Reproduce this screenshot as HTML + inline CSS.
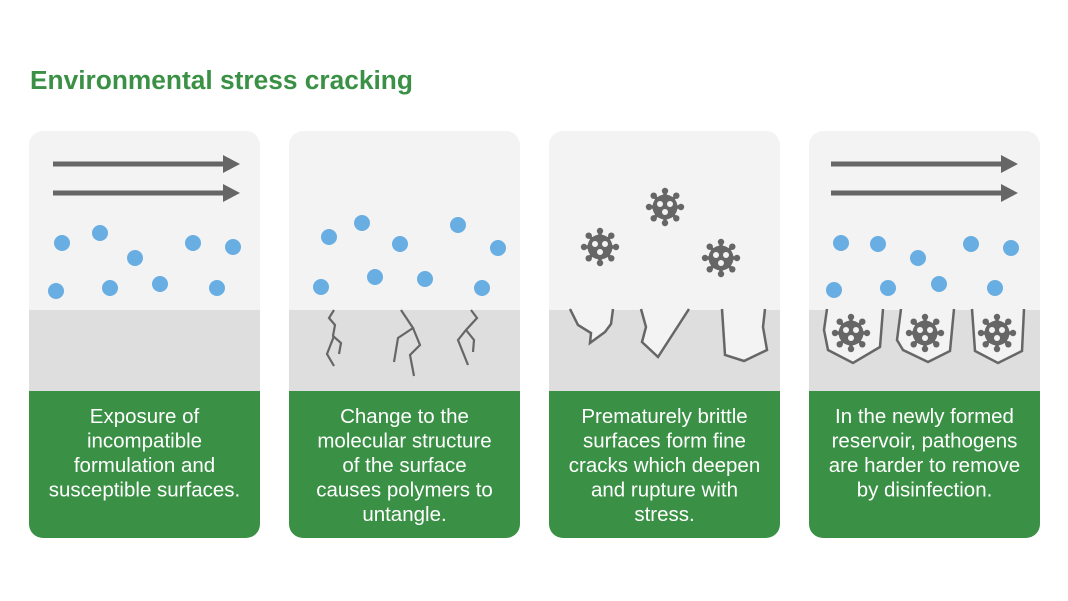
<!DOCTYPE html>
<html><head><meta charset="utf-8"><style>
html,body{margin:0;padding:0;background:#fff;}
svg{display:block;font-family:"Liberation Sans",Arial,sans-serif;}
</style></head><body>
<svg width="1068" height="601" viewBox="0 0 1068 601" xmlns="http://www.w3.org/2000/svg">
<defs>
  <clipPath id="c1"><rect x="29" y="131" width="231" height="407" rx="14"/></clipPath>
  <clipPath id="c2"><rect x="289" y="131" width="231" height="407" rx="14"/></clipPath>
  <clipPath id="c3"><rect x="549" y="131" width="231" height="407" rx="14"/></clipPath>
  <clipPath id="c4"><rect x="809" y="131" width="231" height="407" rx="14"/></clipPath>
  <g id="v">
    <g stroke="#666" stroke-width="3.5" stroke-linecap="round">
      <line x1="0" y1="0" x2="0" y2="-16"/><line x1="0" y1="0" x2="0" y2="16"/>
      <line x1="0" y1="0" x2="-16" y2="0"/><line x1="0" y1="0" x2="16" y2="0"/>
      <line x1="0" y1="0" x2="11.3" y2="11.3"/><line x1="0" y1="0" x2="-11.3" y2="11.3"/>
      <line x1="0" y1="0" x2="11.3" y2="-11.3"/><line x1="0" y1="0" x2="-11.3" y2="-11.3"/>
    </g>
    <g fill="#666">
      <circle r="12.5"/>
      <circle cx="0" cy="-16" r="3.2"/><circle cx="0" cy="16" r="3.2"/>
      <circle cx="-16" cy="0" r="3.2"/><circle cx="16" cy="0" r="3.2"/>
      <circle cx="11.3" cy="11.3" r="3.2"/><circle cx="-11.3" cy="11.3" r="3.2"/>
      <circle cx="11.3" cy="-11.3" r="3.2"/><circle cx="-11.3" cy="-11.3" r="3.2"/>
    </g>
    <g fill="#f3f3f3"><circle cx="-5" cy="-3" r="3"/><circle cx="5" cy="-3" r="3"/><circle cx="0" cy="5" r="3"/></g>
  </g>
  <g id="arr">
    <rect x="0" y="-2.5" width="172" height="5" fill="#666"/>
    <path d="M170,-9 L187,0 L170,9 Z" fill="#666"/>
  </g>
</defs>
<text x="30" y="89" font-size="26.3" font-weight="bold" fill="#3a9145">Environmental stress cracking</text>

<g clip-path="url(#c1)">
  <rect x="29" y="131" width="231" height="407" fill="#f3f3f3"/>
  <rect x="29" y="310" width="231" height="81" fill="#dedede"/>
  <rect x="29" y="391" width="231" height="147" fill="#3a9145"/>
</g>
<g clip-path="url(#c2)">
  <rect x="289" y="131" width="231" height="407" fill="#f3f3f3"/>
  <rect x="289" y="310" width="231" height="81" fill="#dedede"/>
  <rect x="289" y="391" width="231" height="147" fill="#3a9145"/>
</g>
<g clip-path="url(#c3)">
  <rect x="549" y="131" width="231" height="407" fill="#f3f3f3"/>
  <rect x="549" y="310" width="231" height="81" fill="#dedede"/>
  <rect x="549" y="391" width="231" height="147" fill="#3a9145"/>
</g>
<g clip-path="url(#c4)">
  <rect x="809" y="131" width="231" height="407" fill="#f3f3f3"/>
  <rect x="809" y="310" width="231" height="81" fill="#dedede"/>
  <rect x="809" y="391" width="231" height="147" fill="#3a9145"/>
</g>

<use href="#arr" x="53" y="164"/><use href="#arr" x="53" y="193"/>
<use href="#arr" x="831" y="164"/><use href="#arr" x="831" y="193"/>

<g fill="#69aee3">
  <circle cx="62" cy="243" r="8"/><circle cx="100" cy="233" r="8"/><circle cx="135" cy="258" r="8"/>
  <circle cx="193" cy="243" r="8"/><circle cx="233" cy="247" r="8"/><circle cx="56" cy="291" r="8"/>
  <circle cx="110" cy="288" r="8"/><circle cx="160" cy="284" r="8"/><circle cx="217" cy="288" r="8"/>

  <circle cx="329" cy="237" r="8"/><circle cx="362" cy="223" r="8"/><circle cx="400" cy="244" r="8"/>
  <circle cx="458" cy="225" r="8"/><circle cx="498" cy="248" r="8"/><circle cx="321" cy="287" r="8"/>
  <circle cx="375" cy="277" r="8"/><circle cx="425" cy="279" r="8"/><circle cx="482" cy="288" r="8"/>

  <circle cx="841" cy="243" r="8"/><circle cx="878" cy="244" r="8"/><circle cx="918" cy="258" r="8"/>
  <circle cx="971" cy="244" r="8"/><circle cx="1011" cy="248" r="8"/><circle cx="834" cy="290" r="8"/>
  <circle cx="888" cy="288" r="8"/><circle cx="939" cy="284" r="8"/><circle cx="995" cy="288" r="8"/>
</g>

<g fill="none" stroke="#666" stroke-width="2.2" stroke-linejoin="miter">
  <polyline points="334,310 329,318 335,325 333,336 341,343 339,354"/>
  <polyline points="334,336 327,354 334,366"/>
  <polyline points="401,310 413,328 398,338 394,362"/>
  <polyline points="413,328 420,345 410,355 414,376"/>
  <polyline points="471,310 477,318 466,330 458,340 468,365"/>
  <polyline points="466,330 474,340 473,352"/>
</g>

<g fill="#f3f3f3" stroke="#666" stroke-width="2.5">
  <polyline points="570,309 578,325 591,333 590,343 605,332 611,324 613,309"/>
  <polyline points="641,309 646,327 642,342 658,357 689,309"/>
  <polyline points="722,309 725,355 744,361 767,350 763,327 765,309"/>
</g>
<use href="#v" x="600" y="247"/><use href="#v" x="665" y="207"/><use href="#v" x="721" y="258"/>

<g fill="#f3f3f3" stroke="#666" stroke-width="2.5">
  <polyline points="827,309 824,330 828,350 853,363 880,347 883,309"/>
  <polyline points="901,309 897,340 903,350 928,362 950,351 954,309"/>
  <polyline points="972,309 975,351 998,363 1022,351 1024,309"/>
</g>
<use href="#v" x="851" y="333"/><use href="#v" x="925" y="333"/><use href="#v" x="997" y="333"/>

<g fill="#fff" font-size="20.5" text-anchor="middle">
  <text x="144.5" y="423">Exposure of</text>
  <text x="144.5" y="447.5">incompatible</text>
  <text x="144.5" y="472">formulation and</text>
  <text x="144.5" y="496.5">susceptible surfaces.</text>

  <text x="404.5" y="423">Change to the</text>
  <text x="404.5" y="447.5">molecular structure</text>
  <text x="404.5" y="472">of the surface</text>
  <text x="404.5" y="496.5">causes polymers to</text>
  <text x="404.5" y="521">untangle.</text>

  <text x="664.5" y="423">Prematurely brittle</text>
  <text x="664.5" y="447.5">surfaces form fine</text>
  <text x="664.5" y="472">cracks which deepen</text>
  <text x="664.5" y="496.5">and rupture with</text>
  <text x="664.5" y="521">stress.</text>

  <text x="924.5" y="423">In the newly formed</text>
  <text x="924.5" y="447.5">reservoir, pathogens</text>
  <text x="924.5" y="472">are harder to remove</text>
  <text x="924.5" y="496.5">by disinfection.</text>
</g>
</svg>
</body></html>
